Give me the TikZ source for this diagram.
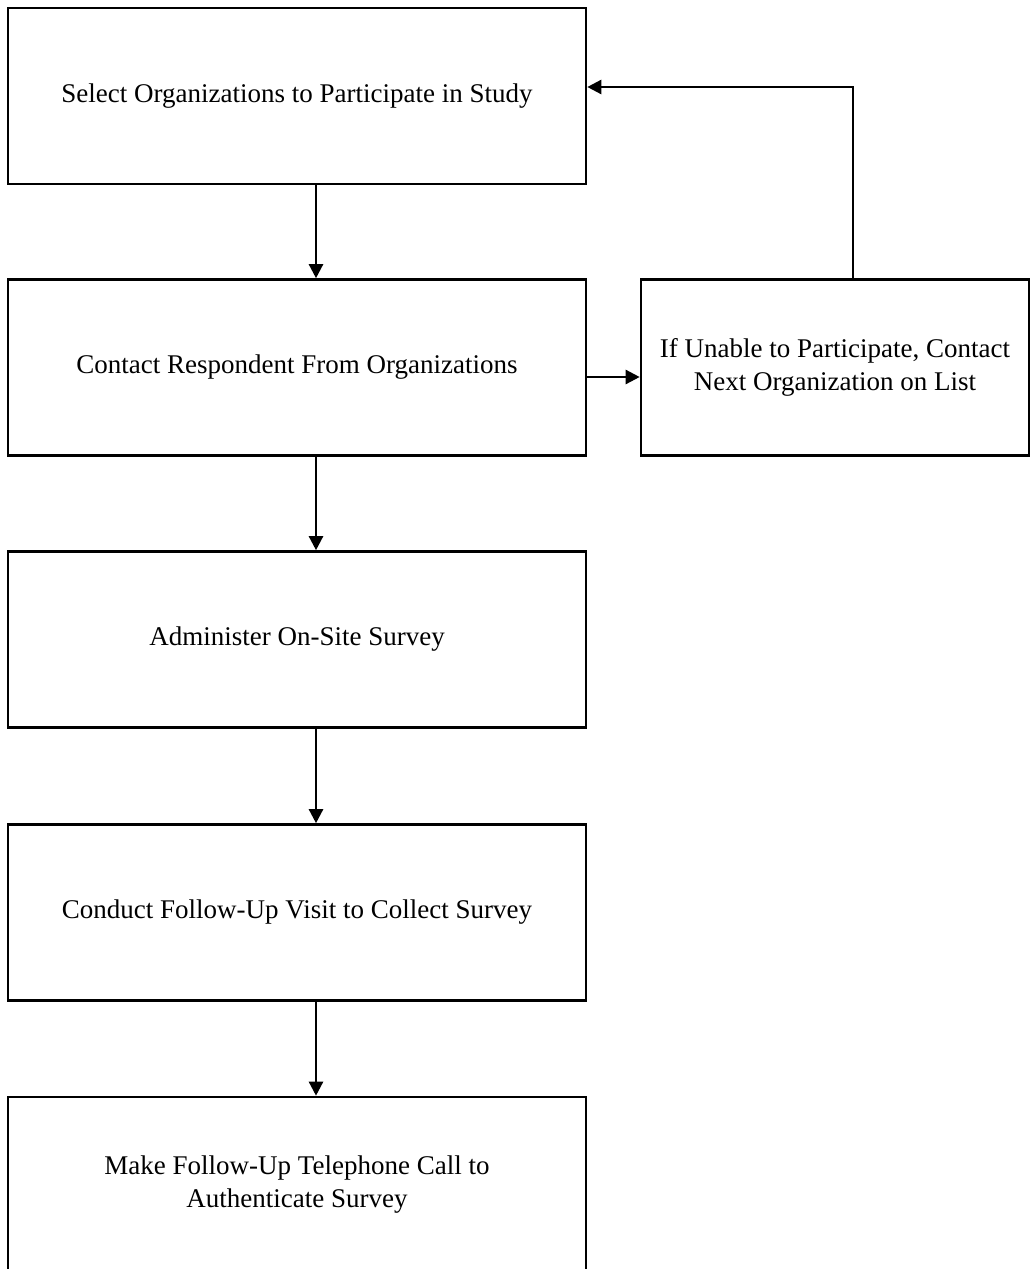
\documentclass[tikz,border=0pt]{standalone}
\usepackage{fontspec}
\setmainfont{Liberation Serif}
\usetikzlibrary{arrows.meta}
\tikzset{
  stepbox/.style={draw, line width=1.3pt, rectangle, minimum width=289pt,
    minimum height=88pt, align=center, inner sep=0pt,
    font=\fontsize{13.5}{16.5}\selectfont},
  sidebox/.style={stepbox, minimum width=194pt},
  flow/.style={line width=1.2pt, -{Triangle[length=7pt,width=7pt]}}
}
\begin{document}
\begin{tikzpicture}[x=0.5pt,y=-0.5pt]
\useasboundingbox (0,0) rectangle (1029,1269);
% Main column of steps
\node[stepbox] (select) at (297,96) {Select Organizations to Participate in Study};
\node[stepbox] (contact) at (297,367.5) {Contact Respondent From Organizations};
\node[stepbox] (survey) at (297,639.5) {Administer On-Site Survey};
\node[stepbox] (visit) at (297,912.5) {Conduct Follow-Up Visit to Collect Survey};
\node[stepbox] (call) at (297,1185) {Make Follow-Up Telephone Call to\\Authenticate Survey};

% Side step
\node[sidebox] (unable) at (835,367.5) {If Unable to Participate, Contact\\Next Organization on List};

% Helper coordinates
\coordinate (spine) at (316,0);
\coordinate (back) at (853,87);

% Arrows down the column
\draw[flow] (select.south -| spine) -- (contact.north -| spine);
\draw[flow] (contact.south -| spine) -- (survey.north -| spine);
\draw[flow] (survey.south -| spine) -- (visit.north -| spine);
\draw[flow] (visit.south -| spine) -- (call.north -| spine);

% Loop back to selection
\draw[flow] (contact.east |- 0,377) -- (unable.west |- 0,377);
\draw[flow] (unable.north -| back) -- (back) -- (select.east |- back);
\end{tikzpicture}
\end{document}
